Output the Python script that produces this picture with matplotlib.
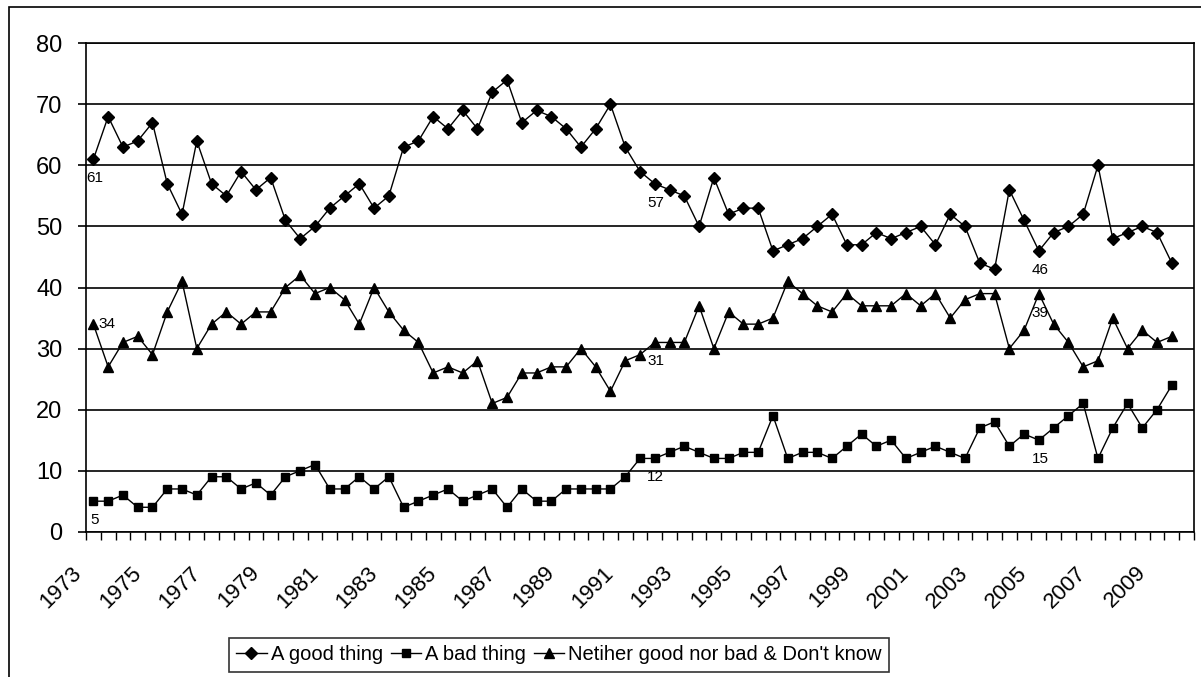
import numpy as np
import matplotlib.pyplot as plt
from matplotlib.patches import Rectangle
import matplotlib.transforms as mtransforms

plt.rcParams['font.family'] = ['Liberation Sans', 'DejaVu Sans']

# half-yearly readings, 1973 .. 2009 (one empty slot at the end)
good = [61, 68, 63, 64, 67, 57, 52, 64, 57, 55, 59, 56, 58, 51, 48, 50, 53, 55, 57, 53,
        55, 63, 64, 68, 66, 69, 66, 72, 74, 67, 69, 68, 66, 63, 66, 70, 63, 59, 57, 56,
        55, 50, 58, 52, 53, 53, 46, 47, 48, 50, 52, 47, 47, 49, 48, 49, 50, 47, 52, 50,
        44, 43, 56, 51, 46, 49, 50, 52, 60, 48, 49, 50, 49, 44]
bad = [5, 5, 6, 4, 4, 7, 7, 6, 9, 9, 7, 8, 6, 9, 10, 11, 7, 7, 9, 7,
       9, 4, 5, 6, 7, 5, 6, 7, 4, 7, 5, 5, 7, 7, 7, 7, 9, 12, 12, 13,
       14, 13, 12, 12, 13, 13, 19, 12, 13, 13, 12, 14, 16, 14, 15, 12, 13, 14, 13, 12,
       17, 18, 14, 16, 15, 17, 19, 21, 12, 17, 21, 17, 20, 24]
neither = [34, 27, 31, 32, 29, 36, 41, 30, 34, 36, 34, 36, 36, 40, 42, 39, 40, 38, 34, 40,
           36, 33, 31, 26, 27, 26, 28, 21, 22, 26, 26, 27, 27, 30, 27, 23, 28, 29, 31, 31,
           31, 37, 30, 36, 34, 34, 35, 41, 39, 37, 36, 39, 37, 37, 37, 39, 37, 39, 35, 38,
           39, 39, 30, 33, 39, 34, 31, 27, 28, 35, 30, 33, 31, 32]
n_slots = 75
year_labels = ['1973', '1975', '1977', '1979', '1981', '1983', '1985', '1987', '1989', '1991',
               '1993', '1995', '1997', '1999', '2001', '2003', '2005', '2007', '2009']
labelled = [0, 38, 64]  # points that carry a value label

W, H = 1201, 677
fig = plt.figure(figsize=(W / 100, H / 100), dpi=100)
ax = fig.add_axes([86 / W, 1 - 531.7 / H, (1194 - 86) / W, (531.7 - 43.3) / H])

x = np.arange(len(good))
l1, = ax.plot(x, good, color='black', lw=1.0, marker='D', ms=6, label='A good thing')
l2, = ax.plot(x, bad, color='black', lw=1.0, marker='s', ms=6, label='A bad thing')
l3, = ax.plot(x, neither, color='black', lw=1.0, marker='^', ms=7.5,
              label="Netiher good nor bad & Don't know")

for i in labelled:
    for s in (good, bad, neither):
        if s is neither and i == 0:
            ax.annotate(str(s[i]), (x[i], s[i]), xytext=(5, 0), textcoords='offset pixels',
                        ha='left', va='center', fontsize=11)
        else:
            ax.annotate(str(s[i]), (x[i], s[i]), xytext=(1, -19), textcoords='offset pixels',
                        ha='center', va='center', fontsize=11)

ax.set_xlim(-0.5, n_slots - 0.5)
ax.set_ylim(0, 80)
ax.set_yticks(range(0, 81, 10))
ax.yaxis.grid(True, color='black', lw=1.2)
ax.set_axisbelow(True)
ax.tick_params(axis='y', length=6, width=1.2, pad=11, labelsize=17)

ax.set_xticks(np.arange(-0.5, n_slots, 1.0))
ax.set_xticklabels([])
ax.tick_params(axis='x', which='major', length=6, width=1.0)
ax.set_xticks(np.arange(0, len(good), 4), minor=True)
ax.set_xticklabels(year_labels, minor=True, rotation=45, ha='right', va='top',
                   rotation_mode='anchor', fontsize=16)
ax.tick_params(axis='x', which='minor', length=0, pad=22)
shift = mtransforms.ScaledTranslation(-22 / 100, 0, fig.dpi_scale_trans)
for t in ax.xaxis.get_minorticklabels():
    t.set_transform(t.get_transform() + shift)

for sp in ax.spines.values():
    sp.set_color('black')
    sp.set_linewidth(1.2)

fig.patches.append(Rectangle((9 / W, -0.05), 1.1, 1 - 7 / H + 0.05, transform=fig.transFigure,
                             fill=False, edgecolor='black', lw=1.2))

leg = fig.legend(handles=[l1, l2, l3], loc='center', bbox_to_anchor=(559 / W, 1 - 655 / H),
                 ncol=3, frameon=True, fancybox=False, edgecolor='black', fontsize=14.5,
                 handlelength=1.5, handletextpad=0.2, columnspacing=0.4, borderpad=0.35,
                 borderaxespad=0)
leg.get_frame().set_linewidth(1.2)

fig.savefig('out.png', dpi=100)
